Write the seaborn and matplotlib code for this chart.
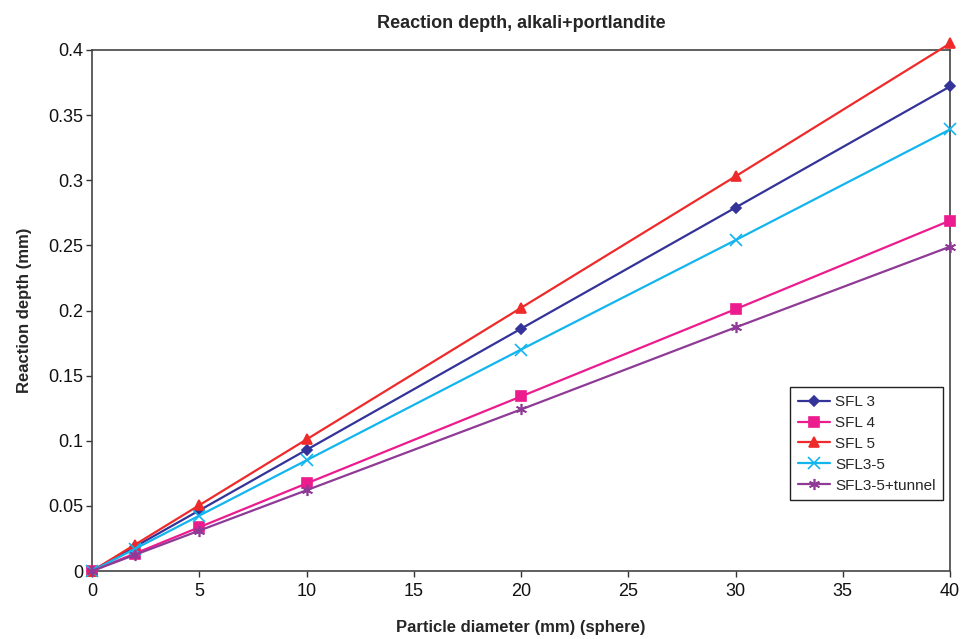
import matplotlib
matplotlib.use("Agg")
import matplotlib.pyplot as plt
import seaborn as sns
import pandas as pd

diam = [0, 2, 5, 10, 20, 30, 40]
sfl3 = [0, 0.0186, 0.0465, 0.093, 0.186, 0.279, 0.372]
sfl4 = [0, 0.0134, 0.0336, 0.0672, 0.134, 0.201, 0.269]
sfl5 = [0, 0.0202, 0.0505, 0.101, 0.202, 0.303, 0.405]
sfl35 = [0, 0.0170, 0.0425, 0.085, 0.170, 0.254, 0.339]
tunnel = [0, 0.0124, 0.031, 0.062, 0.124, 0.187, 0.249]
names = ["SFL 3", "SFL 4", "SFL 5", "SFL3-5", "SFL3-5+tunnel"]
series = [sfl3, sfl4, sfl5, sfl35, tunnel]
xticks = [0, 5, 10, 15, 20, 25, 30, 35, 40]
yticks = [0, 0.05, 0.1, 0.15, 0.2, 0.25, 0.3, 0.35, 0.4]
ytick_labels = ["0", "0.05", "0.1", "0.15", "0.2", "0.25", "0.3", "0.35", "0.4"]

sns.set_theme(style="white")
plt.rcParams['font.family'] = ['Liberation Sans', 'DejaVu Sans']

colors = ["#333399", "#EC1C8E", "#EE2A2A", "#12B5EE", "#8E3A96"]
markers = ["D", "s", "^", "x", (6, 2, 0)]
msizes = [5, 7, 7, 8, 8]

fig = plt.figure(figsize=(9.65, 6.39), dpi=100)
ax = fig.add_axes([92/965, 1-571/639, (950-92)/965, (571-50)/639])

for name, vals, c, m, ms in zip(names, series, colors, markers, msizes):
    df = pd.DataFrame({"x": diam, "y": vals})
    sns.lineplot(data=df, x="x", y="y", ax=ax, color=c, marker=m, markersize=ms,
                 markeredgecolor=c, markerfacecolor=c, markeredgewidth=1.2,
                 linewidth=1.6, label=name, clip_on=False, zorder=3)

ax.set_xlim(0, 40)
ax.set_ylim(0, 0.4)
ax.set_xticks(xticks)
ax.set_xticklabels([str(t) for t in xticks], fontsize=13)
ax.set_yticks(yticks)
ax.set_yticklabels(ytick_labels, fontsize=13)
ax.tick_params(axis="both", which="both", direction="out", length=4, width=1,
               color="#333333", left=True, bottom=True, labelcolor="#111111")
ax.tick_params(axis="y", pad=2)
ax.tick_params(axis="x", pad=5)
for s in ax.spines.values():
    s.set_color("#444444")
    s.set_linewidth(1.2)
ax.set_xlabel("Particle diameter (mm) (sphere)", fontsize=12, fontweight="bold", labelpad=14)
ax.set_ylabel("Reaction depth (mm)", fontsize=12, fontweight="bold", labelpad=12)
ax.set_title("Reaction depth, alkali+portlandite", fontsize=13, fontweight="bold", pad=16)

leg = ax.legend(loc="lower right", bbox_to_anchor=(0.992, 0.136), borderaxespad=0,
                fontsize=11, frameon=True, fancybox=False, framealpha=1,
                edgecolor="#222222", borderpad=0.5, labelspacing=0.45,
                handlelength=2.1, handletextpad=0.35)
leg.get_frame().set_linewidth(1.0)

fig.savefig("out.png", dpi=100)
